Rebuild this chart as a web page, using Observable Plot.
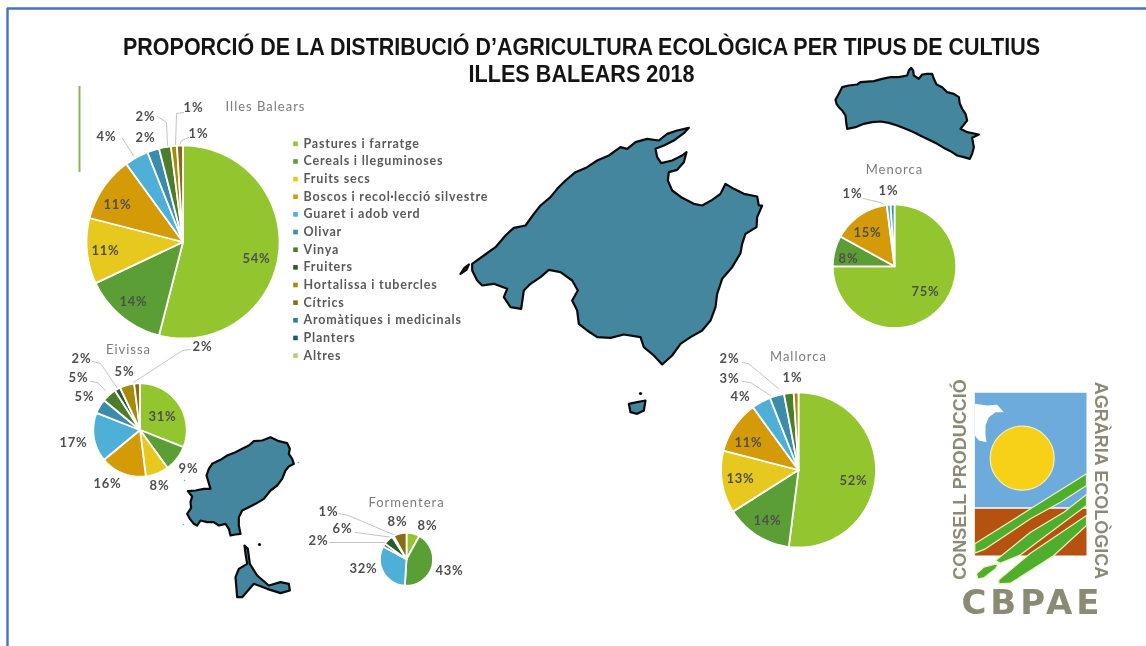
<!DOCTYPE html>
<html lang="ca">
<head>
<meta charset="utf-8">
<title>Proporció de la distribució d'agricultura ecològica</title>
<style>
html,body{margin:0;padding:0;background:#fff;}
svg{display:block;filter:blur(0.45px);}
</style>
<script src="https://cdn.jsdelivr.net/npm/d3@7"></script>
<script src="https://cdn.jsdelivr.net/npm/@observablehq/plot@0.6"></script>
</head>
<body>
<div id="chart"></div>
<script>
// ---------- data ----------
const categories = ["Pastures i farratge","Cereals i lleguminoses","Fruits secs","Boscos i recol·lecció silvestre","Guaret i adob verd","Olivar","Vinya","Fruiters","Hortalissa i tubercles","Cítrics","Aromàtiques i medicinals","Planters","Altres"];
const palette = ["#93c52f","#5b9e35","#e6c81e","#d49a08","#4eb0d6","#3b8bab","#4d7c2a","#2f5a30","#a58a0b","#866c12","#2b7e9b","#1e5a70","#b8d26e"];
const illesBalears = [54,14,11,11,4,2,2,0,1,1,0,0,0];
const eivissa      = [31,9,8,16,17,5,5,2,5,2,0,0,0];
const formentera   = [8,43,0,0,32,0,2,6,1,8,0,0,0];
const menorca      = [75,8,0,15,1,1,0,0,0,0,0,0,0];
const mallorca     = [52,14,13,11,4,3,2,0,1,0,0,0,0];

// ---------- layout ----------
const pies = [
  {name:"Illes Balears", values:illesBalears, cx:182.5, cy:241.5, r:96.5, title:[265,106],
   labels:[[256,258],[133,301],[105,250],[117,204],[106,136],[145,137],[145,116],[193,107],[198,133]],
   leaders:[[[122,138],[133,155]],[[157,116],[166,122],[167,145]],[[183,112],[176,113],[175,145]],[[188,137],[181,140],[178,147]]]},
  {name:"Eivissa", values:eivissa, cx:139.5, cy:429.5, r:46.7, title:[128,349],
   labels:[[162,416],[188,468],[159,485],[107,483],[73,442],[84,396],[78,377],[81,358],[124,371],[202,346]],
   leaders:[[[90,381],[97,382],[105,390]],[[92,361],[100,363],[117,388]],[[190,349],[182,350],[133,382]]]},
  {name:"Formentera", values:formentera, cx:406, cy:558.7, r:26.5, title:[406,502],
   labels:[[427,525],[449,570],[363,568],[318,540],[342,528],[328,511],[397,521]],
   leaders:[[[338,513],[348,515],[395,535]],[[355,532],[393,537]],[[329,542],[387,542]]]},
  {name:"Menorca", values:menorca, cx:894, cy:265.8, r:61.7, title:[894,169],
   labels:[[925,291],[848,258],[867,232],[852,193],[888,190]],
   leaders:[[[863,198],[880,202],[885,205]]]},
  {name:"Mallorca", values:mallorca, cx:798, cy:469.5, r:77.5, title:[798,356],
   labels:[[853,480],[767,520],[740,478],[748,442],[740,396],[729,378],[729,358],[792,377]],
   leaders:[[[742,362],[748,363],[778,388]],[[742,381],[750,382],[770,395]]]}
];
const titleLines = ["PROPORCIÓ DE LA DISTRIBUCIÓ D’AGRICULTURA ECOLÒGICA PER TIPUS DE CULTIUS","ILLES BALEARS 2018"];
const titleWidths = [917,226];

// outlines, in crop pixels at 3x
const crop = (x0,y0,pts) => pts.map(([x,y]) => [x0+x/3, y0+y/3]);
const islands = {
  mallorca: crop(450,110,[[65,460],[100,435],[135,410],[165,375],[190,352],[225,345],[250,310],[270,285],[300,260],[320,235],[345,210],[375,185],[410,170],[440,150],[475,135],[510,110],[530,115],[555,95],[590,85],[625,90],[650,70],[680,60],[715,52],[700,68],[670,90],[640,105],[615,115],[620,140],[632,158],[665,150],[695,135],[708,125],[700,155],[680,178],[655,185],[652,210],[665,240],[695,262],[730,280],[755,285],[785,268],[810,250],[825,220],[850,235],[880,250],[920,258],[925,285],[935,285],[920,320],[918,350],[885,370],[875,400],[870,428],[845,470],[815,505],[800,550],[795,590],[780,630],[755,660],[720,680],[690,700],[665,735],[635,762],[610,735],[580,710],[570,680],[520,672],[480,682],[440,680],[410,660],[385,640],[380,600],[365,570],[382,540],[365,510],[330,485],[295,478],[270,500],[240,520],[220,540],[212,595],[180,590],[160,560],[170,535],[130,520],[95,525],[80,510],[65,480]]),
  dragonera: crop(450,110,[[30,490],[42,472],[55,462],[48,478]]),
  cabrera: crop(450,110,[[535,880],[560,875],[585,870],[580,900],[560,910],[540,905]]),
  menorca: crop(700,60,[[405,118],[415,100],[425,80],[445,75],[470,72],[480,65],[520,62],[545,55],[570,50],[595,50],[620,45],[625,30],[632,22],[638,30],[640,45],[655,55],[665,42],[680,40],[695,40],[700,55],[708,72],[725,80],[740,95],[760,100],[775,110],[778,130],[785,145],[795,160],[800,180],[780,205],[800,215],[835,222],[815,232],[820,260],[815,280],[808,295],[790,290],[770,285],[750,272],[735,265],[710,250],[690,240],[665,228],[640,215],[615,205],[590,195],[565,187],[540,183],[515,185],[490,190],[465,200],[440,205],[437,185],[435,165],[425,150],[415,140],[408,130]]),
  eivissa: crop(170,420,[[52,212],[75,210],[100,205],[120,205],[108,165],[115,145],[125,130],[150,118],[170,105],[195,95],[215,85],[235,75],[250,62],[275,60],[300,50],[325,62],[350,68],[358,85],[355,100],[365,115],[370,130],[355,138],[345,150],[335,175],[320,195],[300,210],[280,235],[255,250],[235,260],[215,270],[205,290],[205,315],[210,340],[195,342],[180,345],[175,325],[165,310],[145,315],[130,305],[110,305],[90,300],[80,315],[70,310],[58,295],[50,280],[62,262],[60,245],[65,228]]),
  formentera: crop(170,420,[[222,375],[232,385],[238,430],[260,465],[295,495],[330,485],[355,490],[358,510],[330,518],[290,505],[250,490],[215,530],[200,530],[195,470],[205,445],[230,430],[225,400]])
};
const isletBlack = [[640,393],[259,544]];
const isletSpecks = [[298,462],[184,480],[183,524]];
const logoShapes = [
  {fill:"#6dabdd", pts:[[133,67],[468,67],[468,410],[133,410]]},
  {fill:"#b5520f", pts:[[133,415],[468,415],[468,555],[133,555]]},
  {fill:"#ffffff", pts:[[133,100],[170,105],[200,103],[220,125],[195,125],[175,140],[165,165],[165,195],[168,215],[145,210],[133,195]]},
  {fill:"#4fae2c", pts:[[133,520],[300,415],[468,310],[468,345],[390,395],[300,445],[165,535],[133,548]]},
  {fill:"#4fae2c", pts:[[195,570],[300,485],[400,425],[468,372],[468,405],[400,455],[270,553],[210,578]]},
  {fill:"#4fae2c", pts:[[205,628],[300,548],[468,435],[468,465],[370,555],[240,638],[205,640]]},
  {fill:"#4fae2c", pts:[[138,610],[160,590],[205,578],[195,595],[160,622],[142,625]]}
].map((s,i) => ({id:i, fill:s.fill, pts:crop(930,370,s.pts)}));

// ---------- derived tables ----------
const wedges = [], pctLabels = [], leaderPts = [];
for (const p of pies) {
  const arcs = d3.pie().sort(null)(p.values);
  let n = 0;
  arcs.forEach((a,i) => {
    if (!p.values[i]) return;
    const id = p.name + i;
    wedges.push({id, category:categories[i], x:p.cx, y:p.cy});
    const steps = Math.max(2, Math.ceil((a.endAngle-a.startAngle)/0.03));
    for (let k=0;k<=steps;k++) {
      const t = a.startAngle + (a.endAngle-a.startAngle)*k/steps;
      wedges.push({id, category:categories[i], x:p.cx+p.r*Math.sin(t), y:p.cy-p.r*Math.cos(t)});
    }
    const pos = p.labels[n++];
    pctLabels.push({x:pos[0], y:pos[1], text:p.values[i]+"%"});
  });
  p.leaders.forEach((l,j) => l.forEach(([x,y]) => leaderPts.push({id:p.name+j, x, y})));
}
const flat = (obj) => Object.entries(obj).flatMap(([id,pts]) => pts.map(([x,y]) => ({id,x,y})));
const islandPts = flat(islands);
const logoPts = logoShapes.flatMap(s => s.pts.map(([x,y]) => ({id:s.id, fill:s.fill, x, y})));
const legendRows = categories.map((c,i) => ({c, y:143.3+i*17.65}));

// letter spacing on a whole text mark
const spaced = (px) => (index, scales, values, dims, ctx, next) => {
  const g = next(index, scales, values, dims, ctx);
  g.style.letterSpacing = px + "px";
  return g;
};
// squeeze each title line into its measured width
const fitted = (index, scales, values, dims, ctx, next) => {
  const g = next(index, scales, values, dims, ctx);
  g.querySelectorAll("text").forEach((t,i) => {
    t.setAttribute("textLength", titleWidths[i]);
    t.setAttribute("lengthAdjust", "spacingAndGlyphs");
  });
  return g;
};

// ---------- chart ----------
const chart = Plot.plot({
  width:1146, height:646, margin:0,
  style:{background:"#fff", overflow:"visible"},
  x:{domain:[0,1146], range:[0,1146], axis:null},
  y:{domain:[0,646], range:[0,646], axis:null},
  color:{type:"ordinal", domain:categories, range:palette},
  marks:[
    // slide frame (top and left only)
    Plot.ruleX([7],{y1:8,y2:646,stroke:"#4472c4",strokeWidth:2.4}),
    Plot.ruleY([8],{x1:7,x2:1146,stroke:"#4472c4",strokeWidth:2.4}),
    Plot.ruleX([79],{y1:86,y2:172,stroke:"#8fb35a",strokeWidth:2}),
    // title
    Plot.text(titleLines,{render:fitted,x:()=>581,y:(d,i)=>47+i*27,text:d=>d,fontFamily:"'Liberation Sans',sans-serif",fontWeight:700,fontSize:23,fill:"#141414"}),
    // islands
    Plot.line(islandPts,{x:"x",y:"y",z:"id",curve:"linear-closed",fill:"#45869f",stroke:"#0a0a0a",strokeWidth:2.2,strokeLinejoin:"round"}),
    Plot.dot(isletBlack,{x:"0",y:"1",r:1.6,fill:"#0a0a0a"}),
    Plot.dot(isletSpecks,{x:"0",y:"1",r:0.8,fill:"#6aa6a8"}),
    // leader lines
    Plot.line(leaderPts,{x:"x",y:"y",z:"id",stroke:"#c4c4c4",strokeWidth:1}),
    // pies
    Plot.line(wedges,{x:"x",y:"y",z:"id",curve:"linear-closed",fill:"category",stroke:"#fff",strokeWidth:1.8,strokeLinejoin:"round"}),
    // labels
    Plot.text(pctLabels,{render:spaced(0.8),x:"x",y:"y",text:"text",fontFamily:"Lato,sans-serif",fontWeight:700,fontSize:13,fill:"#4f4f4f"}),
    Plot.text(pies,{render:spaced(1),x:d=>d.title[0],y:d=>d.title[1],text:"name",fontFamily:"Lato,sans-serif",fontSize:13,fill:"#7c7c7c"}),
    // legend
    Plot.dot(legendRows,{x:()=>295,y:"y",symbol:"square",r:2.6,fill:"c"}),
    Plot.text(legendRows,{render:spaced(0.8),x:()=>303,y:"y",text:"c",textAnchor:"start",fontFamily:"Lato,sans-serif",fontWeight:700,fontSize:12.5,fill:"#5a5a5a"}),
    // logo
    Plot.line(logoPts,{x:"x",y:"y",z:"id",curve:"linear-closed",fill:"fill",stroke:d=>d.fill==="#4fae2c"?"#f1efc6":"none",strokeWidth:1.2}),
    Plot.dot([[1021.7,457.7]],{x:"0",y:"1",r:32,fill:"#f7d117",stroke:"#f3efc4",strokeWidth:1.2}),
    Plot.text(["CONSELL PRODUCCIÓ"],{x:()=>960,y:()=>479,rotate:-90,text:d=>d,fontFamily:"'Liberation Sans',sans-serif",fontWeight:700,fontSize:18,fill:"#8b8b75"}),
    Plot.text(["AGRÀRIA ECOLÒGICA"],{x:()=>1100,y:()=>480,rotate:90,text:d=>d,fontFamily:"'Liberation Sans',sans-serif",fontWeight:700,fontSize:18,fill:"#8b8b75"}),
    Plot.text(["CBPAE"],{render:spaced(4),x:()=>1032,y:()=>603,text:d=>d,fontFamily:"'DejaVu Sans',sans-serif",fontWeight:700,fontSize:34,fill:"#8b8b75"})
  ]
});
document.getElementById("chart").append(chart);
</script>
</body>
</html>
